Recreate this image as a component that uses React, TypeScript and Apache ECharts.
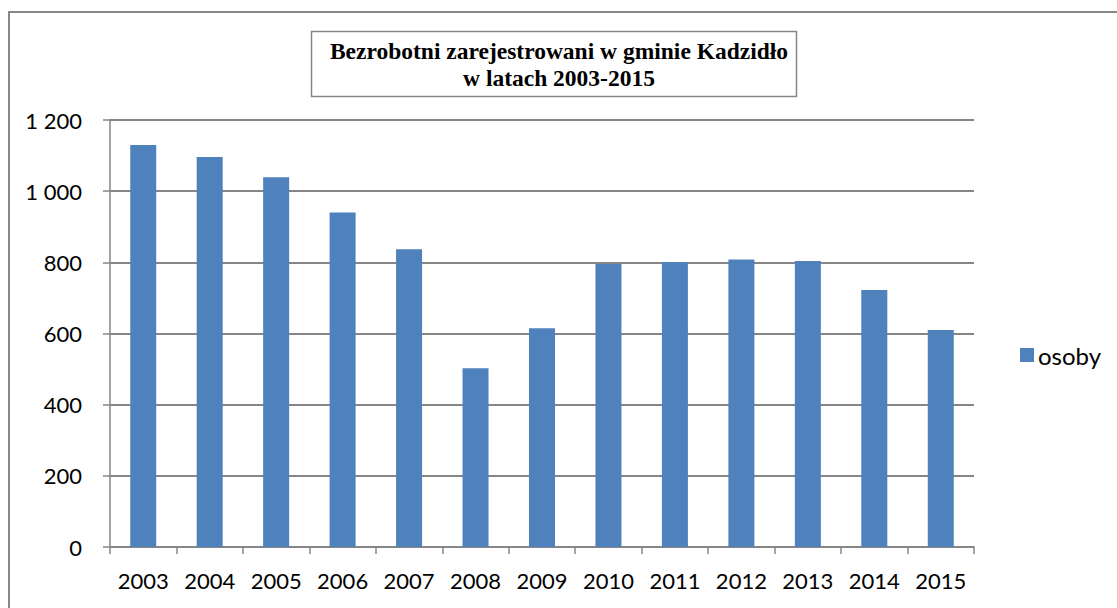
import React, { useEffect, useRef } from "react";
import * as echarts from "echarts";

const years = ["2003", "2004", "2005", "2006", "2007", "2008", "2009", "2010", "2011", "2012", "2013", "2014", "2015"];
const osoby = [1130, 1096, 1039, 940, 837, 502, 615, 795, 801, 808, 804, 722, 610];
const seriesName = "osoby";
const titleText = "Bezrobotni zarejestrowani w gminie Kadzidło\nw latach 2003-2015";

const AXIS = "#868686";
const FONT = "Lato";

export default function App() {
  const ref = useRef<HTMLDivElement>(null);
  useEffect(() => {
    if (!ref.current) return;
    const chart = echarts.init(ref.current, undefined, { renderer: "svg" });
    chart.setOption({
      animation: false,
      backgroundColor: "#ffffff",
      title: {
        text: titleText,
        left: 554,
        top: 32,
        textAlign: "center",
        textStyle: {
          fontFamily: "Liberation Serif",
          fontWeight: "bold",
          fontSize: 23.5,
          lineHeight: 27,
          color: "#000",
        },
      },
      graphic: [
        {
          type: "rect",
          shape: { x: 9, y: 12, width: 1200, height: 700 },
          style: { fill: "none", stroke: AXIS, lineWidth: 2 },
          silent: true,
        },
        {
          type: "rect",
          shape: { x: 311.5, y: 31.5, width: 485, height: 65 },
          style: { fill: "none", stroke: AXIS, lineWidth: 1.5 },
          silent: true,
        },
      ],
      legend: {
        left: 1015,
        top: 338,
        icon: "rect",
        itemWidth: 14,
        itemHeight: 14,
        itemGap: 6,
        textStyle: { fontFamily: FONT, fontSize: 24, color: "#000", padding: [0, 0, 0, -1] },
        data: [seriesName],
      },
      grid: { left: 110, right: 143, top: 120, bottom: 61, containLabel: false },
      xAxis: {
        type: "category",
        data: years,
        axisLine: { lineStyle: { color: AXIS, width: 1.5 } },
        axisTick: { show: true, length: 7, lineStyle: { color: AXIS, width: 1.5 }, alignWithLabel: false },
        axisLabel: { fontFamily: FONT, fontSize: 22, color: "#000", margin: 22, interval: 0 },
      },
      yAxis: {
        type: "value",
        min: 0,
        max: 1200,
        interval: 200,
        axisLine: { show: true, lineStyle: { color: AXIS, width: 1.5 } },
        axisTick: { show: true, length: 7, lineStyle: { color: AXIS, width: 1.5 } },
        splitLine: { show: true, lineStyle: { color: AXIS, width: 1.8 } },
        axisLabel: {
          fontFamily: FONT,
          fontSize: 22,
          color: "#000",
          margin: 28,
          formatter: (v: number) => String(v).replace(/\B(?=(\d{3})+(?!\d))/g, " "),
        },
      },
      series: [
        {
          name: seriesName,
          type: "bar",
          data: osoby,
          barWidth: 26,
          itemStyle: { color: "#4f81bd" },
        },
      ],
    });
    return () => chart.dispose();
  }, []);
  return (
    <div
      ref={ref}
      style={{ position: "fixed", left: 0, top: 0, width: 1117, height: 608 }}
    />
  );
}
